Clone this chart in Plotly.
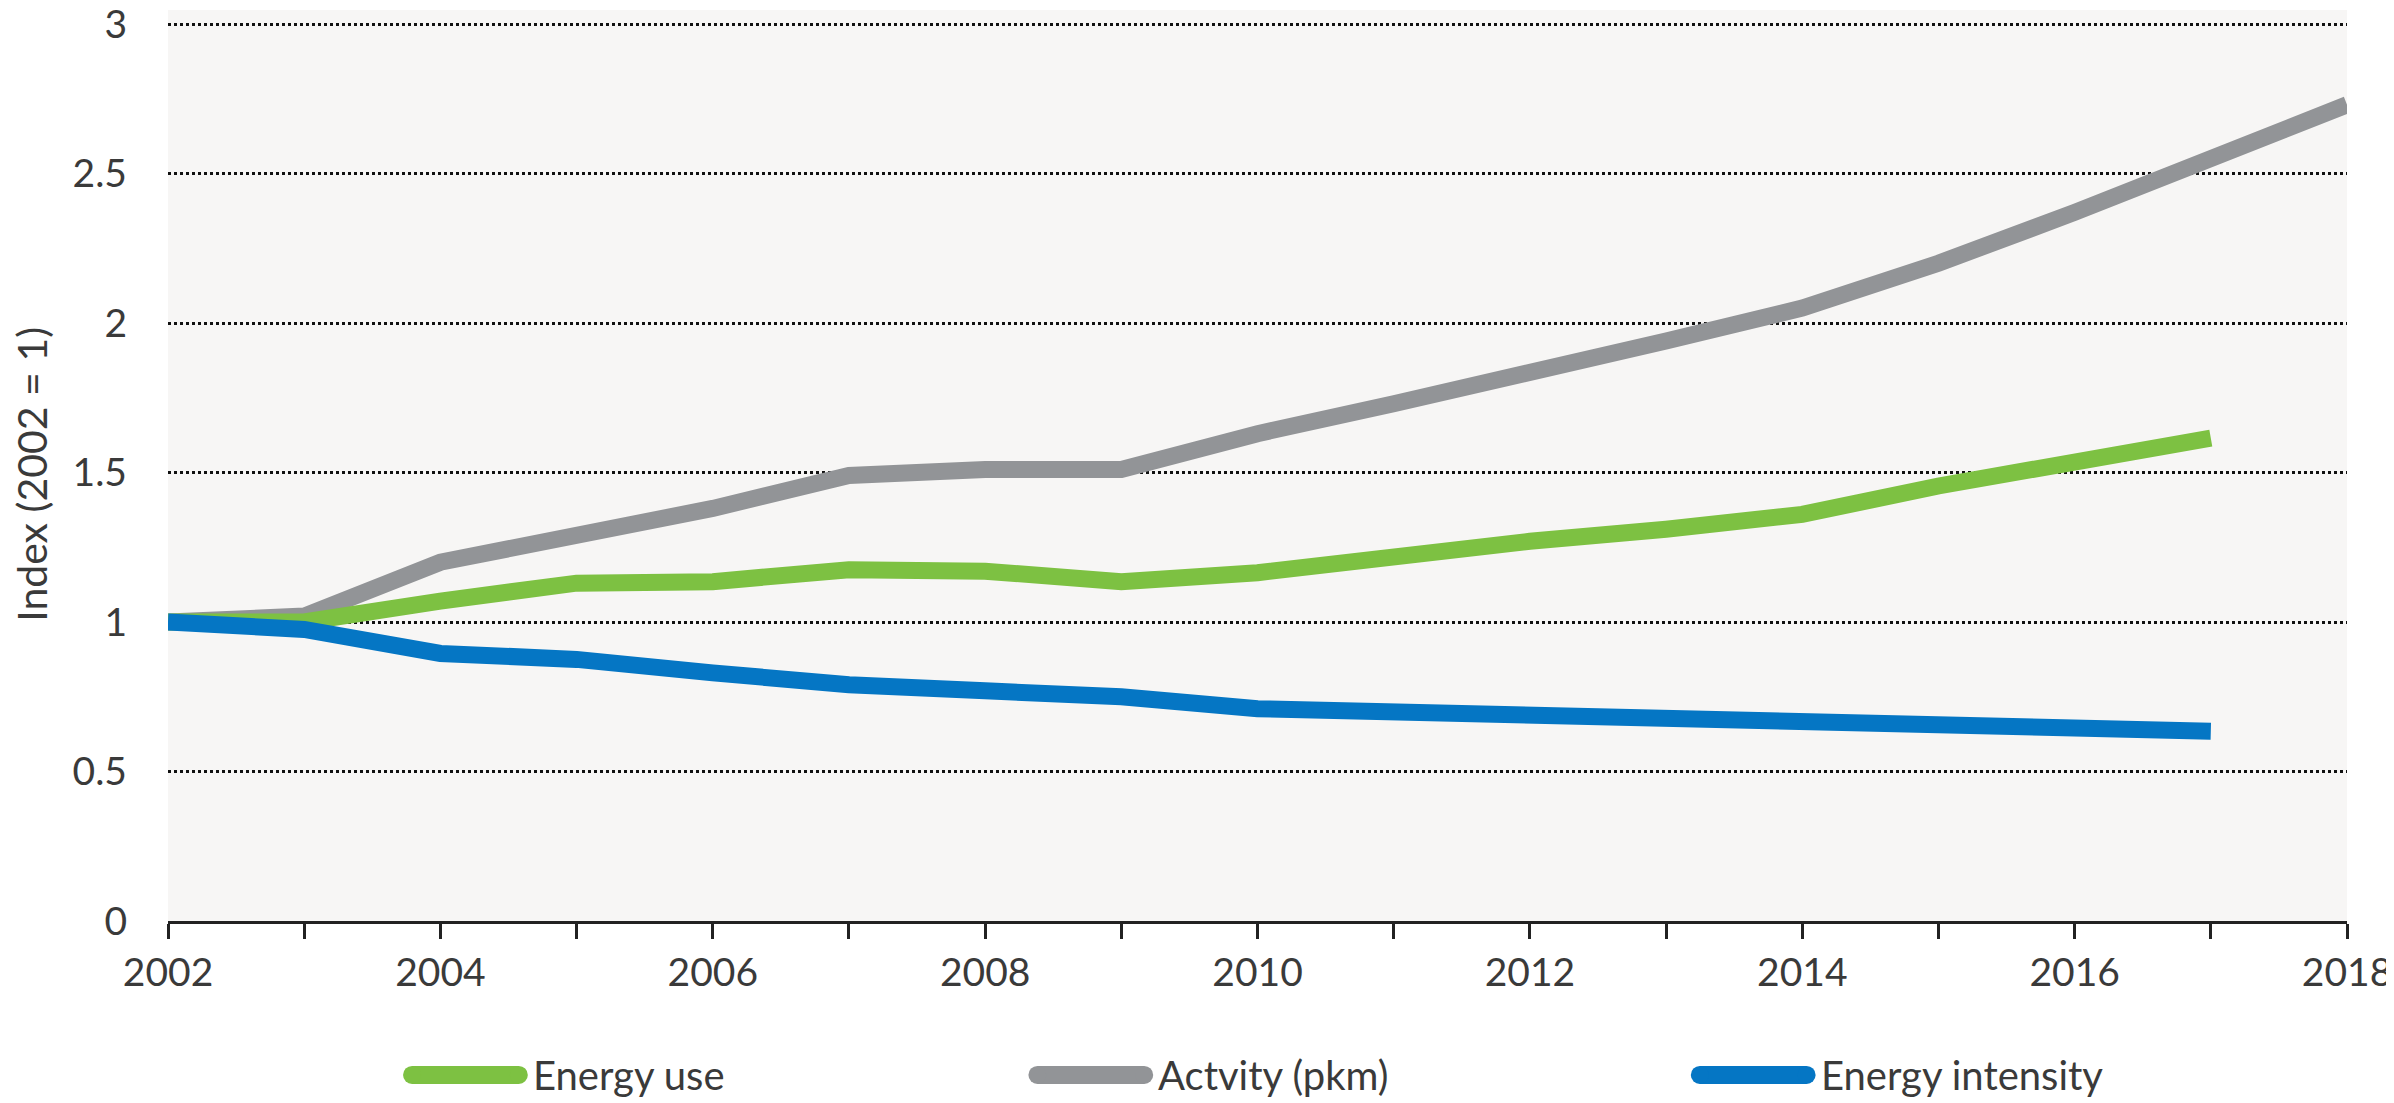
"""Index of energy use, activity and energy intensity, 2002 = 1."""

import plotly.graph_objects as go

YEARS = list(range(2002, 2019))

ENERGY_USE = [1.00, 1.00, 1.07, 1.13, 1.135, 1.175, 1.17, 1.135, 1.165,
              1.22, 1.27, 1.31, 1.36, 1.455, 1.54, 1.615]
ACTIVITY = [1.00, 1.02, 1.20, 1.29, 1.38, 1.49, 1.51, 1.51, 1.63,
            1.73, 1.83, 1.94, 2.05, 2.20, 2.37, 2.55, 2.73]
ENERGY_INTENSITY = [1.00, 0.975, 0.895, 0.875, 0.83, 0.79, 0.77, 0.75, 0.71,
                    0.70, 0.685, 0.67, 0.66, 0.655, 0.645, 0.635]

X_TICKS = list(range(2002, 2019, 2))
Y_TICKS = [0, 0.5, 1, 1.5, 2, 2.5, 3]
Y_TICK_LABELS = ["0", "0.5", "1", "1.5", "2", "2.5", "3"]

GREEN = "#7DC142"
GREY = "#929497"
BLUE = "#0576C4"
TEXT = "#3a3a3a"
AXIS = "#222222"
PLOT_BG = "#F7F6F5"
FONT = "Lato, 'Open Sans', sans-serif"

# draw order: grey under green under blue; legend order differs
SERIES = [
    ("Actvity (pkm)", ACTIVITY, GREY),
    ("Energy use", ENERGY_USE, GREEN),
    ("Energy intensity", ENERGY_INTENSITY, BLUE),
]
LEGEND_ORDER = ["Energy use", "Actvity (pkm)", "Energy intensity"]
LEGEND_X = [0.112, 0.399, 0.703]
LEGEND_Y = -0.169
SWATCH_LEN = 0.049
SWATCH_R = 9

fig = go.Figure()
for name, values, color in SERIES:
    fig.add_trace(
        go.Scatter(
            x=YEARS[: len(values)],
            y=values,
            mode="lines",
            name=name,
            line={"color": color, "width": 17},
            showlegend=False,
        )
    )

# hand-drawn legend: long rounded swatches like the original
colors = {name: color for name, _, color in SERIES}
for x0, name in zip(LEGEND_X, LEGEND_ORDER):
    color = colors[name]
    fig.add_shape(
        type="line", xref="paper", yref="paper",
        x0=x0, x1=x0 + SWATCH_LEN, y0=LEGEND_Y, y1=LEGEND_Y,
        line={"color": color, "width": 2 * SWATCH_R},
    )
    for end in (x0, x0 + SWATCH_LEN):
        fig.add_shape(
            type="circle", xref="paper", yref="paper",
            xsizemode="pixel", ysizemode="pixel",
            xanchor=end, yanchor=LEGEND_Y,
            x0=-SWATCH_R, x1=SWATCH_R, y0=-SWATCH_R, y1=SWATCH_R,
            fillcolor=color, line={"width": 0},
        )
    fig.add_annotation(
        text=name, xref="paper", yref="paper",
        x=x0 + SWATCH_LEN + 0.0055, y=LEGEND_Y, xanchor="left", yanchor="middle",
        showarrow=False, font={"size": 40, "color": TEXT, "family": FONT},
    )

fig.add_annotation(
    text="Index (2002 = 1)", xref="paper", yref="paper",
    x=-0.0628, y=0.49, xanchor="center", yanchor="middle", textangle=-90,
    showarrow=False, font={"size": 41, "color": TEXT, "family": FONT},
)

# page body has an 8px margin, so the figure is 16px smaller than the window
fig.update_layout(
    width=2386,
    height=1095,
    margin={"l": 160, "r": 47, "t": 2, "b": 182},
    paper_bgcolor="white",
    plot_bgcolor=PLOT_BG,
    font={"family": FONT, "color": TEXT, "size": 39},
    showlegend=False,
)
fig.update_xaxes(
    range=[2002, 2018],
    tickvals=X_TICKS,
    ticks="outside",
    ticklen=15,
    tickwidth=2.5,
    tickcolor=AXIS,
    tickfont={"size": 39},
    ticklabeloverflow="allow",
    showline=True,
    linecolor=AXIS,
    linewidth=3,
    showgrid=False,
    zeroline=False,
    automargin=False,
    minor={"dtick": 1, "ticks": "outside", "ticklen": 15, "tickwidth": 2.5,
           "tickcolor": AXIS, "showgrid": False},
)
fig.update_yaxes(
    range=[0, 3.047],
    tickvals=Y_TICKS,
    ticktext=Y_TICK_LABELS,
    tickfont={"size": 39},
    ticklabeloverflow="allow",
    ticks="",
    ticklabelstandoff=40,
    showgrid=True,
    gridcolor="#111",
    griddash="dot",
    gridwidth=2.5,
    zeroline=False,
    showline=False,
    automargin=False,
)

fig.write_html("out.html")
